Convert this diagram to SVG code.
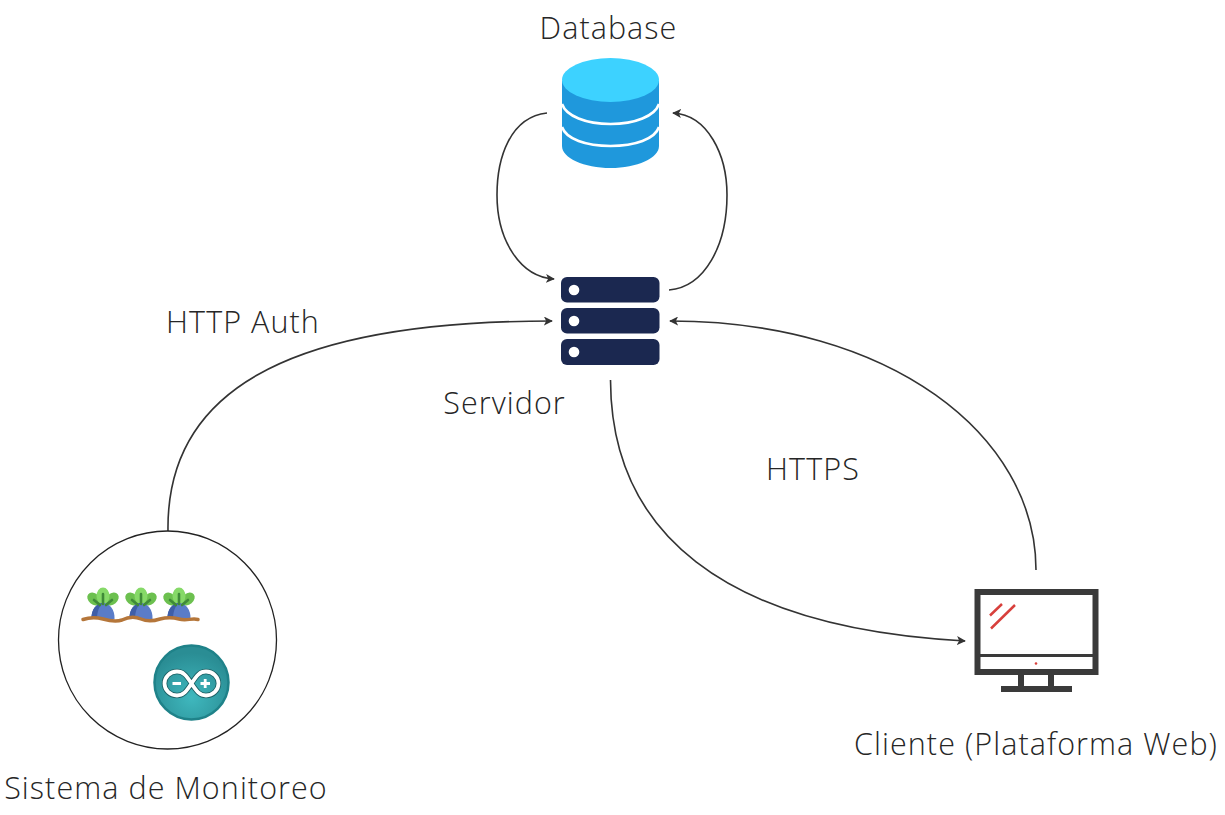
<svg xmlns="http://www.w3.org/2000/svg" width="1225" height="815" viewBox="0 0 1225 815">
<style>
.t{font-family:"Open Sans","Liberation Sans",sans-serif;font-size:30.5px;font-weight:350;letter-spacing:1.07px;fill:#262626}
.c{fill:none;stroke:#333;stroke-width:1.6}
.s{fill:#1b2850}
.d{fill:#fff}
</style>
<defs>
<marker id="a" viewBox="0 0 10 10" refX="9" refY="5" markerWidth="9" markerHeight="9" markerUnits="userSpaceOnUse" orient="auto"><path d="M0 0L10 5L0 10L2.500 5Z" fill="#333"/></marker>
<radialGradient id="ard" cx="0.5" cy="0.7" r="0.6"><stop offset="0" stop-color="#3fb8be"/><stop offset="1" stop-color="#2a8d94"/></radialGradient>
<g id="plant">
<ellipse cx="-9" cy="-13" rx="7.500" ry="5.500" transform="rotate(40 -9 -13)" fill="#6cc04f"/>
<ellipse cx="9" cy="-13" rx="7.500" ry="5.500" transform="rotate(-40 9 -13)" fill="#6cc04f"/>
<ellipse cx="0" cy="-16" rx="6.500" ry="8.500" fill="#86d968"/>
<path d="M-11.500 7C-12 -3 -6 -9 0 -9C7 -9 12 -2 11.500 7Z" fill="#5a7cc8"/>
<path d="M-11.500 7C-12 -3 -6 -9 0 -9C-4 -6 -6 0 -6 7Z" fill="#3f5ea8"/>
<path d="M0 -8V-18M-3 -7L-9 -12M3 -7L9 -12" stroke="#3f8a38" stroke-width="2.600" fill="none" stroke-linecap="round"/>
</g>
</defs>
<rect width="1225" height="815" fill="#fff"/>
<g id="connectors">
<path class="c" d="M547 113C510 117 497 158 497 195C497 240 520 277 554 279" marker-end="url(#a)"/>
<path class="c" d="M669 290C705 287 727 245 727 195C727 155 708 115 673 113" marker-end="url(#a)"/>
<path class="c" d="M168 531C166 395 280 321 552 321" marker-end="url(#a)"/>
<path class="c" d="M610.500 380C611 530 720 628 965 641" marker-end="url(#a)"/>
<path class="c" d="M1036 570C1036 435 890 321 670 321" marker-end="url(#a)"/>
</g>
<g id="database">
<text class="t" x="608.500" y="39" text-anchor="middle">Database</text>
<path d="M562 81V146C562 158 584 168 610.500 168C637 168 659 158 659 146V81Z" fill="#1f98dc"/>
<path d="M562 104C566 116 586 124 610.500 124C635 124 655 116 659 104M562 127C566 139 586 146 610.500 146C635 146 655 139 659 127" fill="none" stroke="#fff" stroke-width="2.600"/>
<ellipse cx="610.500" cy="80" rx="48.500" ry="22" fill="#3dd2ff"/>
</g>
<g id="server">
<rect class="s" x="561" y="277" width="98.500" height="25.500" rx="6"/>
<rect class="s" x="561" y="308" width="98.500" height="25.500" rx="6"/>
<rect class="s" x="561" y="339" width="98.500" height="26" rx="6"/>
<circle class="d" cx="574" cy="290" r="5.300"/>
<circle class="d" cx="574" cy="321" r="5.300"/>
<circle class="d" cx="574" cy="352" r="5.300"/>
<text class="t" x="504.500" y="414" text-anchor="middle">Servidor</text>
</g>
<g id="sistema">
<circle cx="167.500" cy="640" r="109" fill="#fff" stroke="#222" stroke-width="1.300"/>
<use href="#plant" x="103" y="612"/>
<use href="#plant" x="141" y="612"/>
<use href="#plant" x="179" y="612"/>
<path d="M83 619.500C90 617 96 617 103 619C110 621 116 622 122 620C128 617 134 616 141 619C148 622 154 621 160 619C167 617 172 617 179 619C186 621 192 618 198 619.500" fill="none" stroke="#b5763a" stroke-width="3.500" stroke-linecap="round"/>
<circle cx="191.500" cy="682.500" r="37" fill="url(#ard)" stroke="#1f8289" stroke-width="2.500"/>
<path d="M191.500 683.500C186 675 183 671.500 177 671.500C170 671.500 164.500 677 164.500 683.500C164.500 690 170 695.500 177 695.500C183 695.500 186 692 191.500 683.500C197 675 200 671.500 206 671.500C213 671.500 218.500 677 218.500 683.500C218.500 690 213 695.500 206 695.500C200 695.500 197 692 191.500 683.500Z" fill="none" stroke="#1c5f63" stroke-width="5.500"/>
<path d="M191.500 683.500C186 675 183 671.500 177 671.500C170 671.500 164.500 677 164.500 683.500C164.500 690 170 695.500 177 695.500C183 695.500 186 692 191.500 683.500C197 675 200 671.500 206 671.500C213 671.500 218.500 677 218.500 683.500C218.500 690 213 695.500 206 695.500C200 695.500 197 692 191.500 683.500Z" fill="none" stroke="#fff" stroke-width="3.800"/>
<path d="M172.500 683.500H181M200.500 683.500H210M205.200 679V688" fill="none" stroke="#fff" stroke-width="2.800"/>
<text class="t" x="166" y="799" text-anchor="middle">Sistema de Monitoreo</text>
</g>
<g id="cliente">
<rect x="977.500" y="592" width="118" height="80" fill="#fff" stroke="#3a3a3a" stroke-width="6"/>
<path d="M975 655.500H1098" stroke="#3a3a3a" stroke-width="3"/>
<path d="M1021 672V689M1051 672V689" stroke="#3a3a3a" stroke-width="6"/>
<rect x="1001" y="686" width="71" height="6" fill="#3a3a3a"/>
<path d="M990 615.500L1002 604M991 628.500L1015 605" stroke="#d8403c" stroke-width="2.500"/>
<circle cx="1036" cy="663.500" r="1.300" fill="#d8403c"/>
<text class="t" x="1036" y="755" text-anchor="middle">Cliente (Plataforma Web)</text>
</g>
<text class="t" x="243" y="333" text-anchor="middle">HTTP Auth</text>
<text class="t" x="813" y="480" text-anchor="middle">HTTPS</text>
</svg>
